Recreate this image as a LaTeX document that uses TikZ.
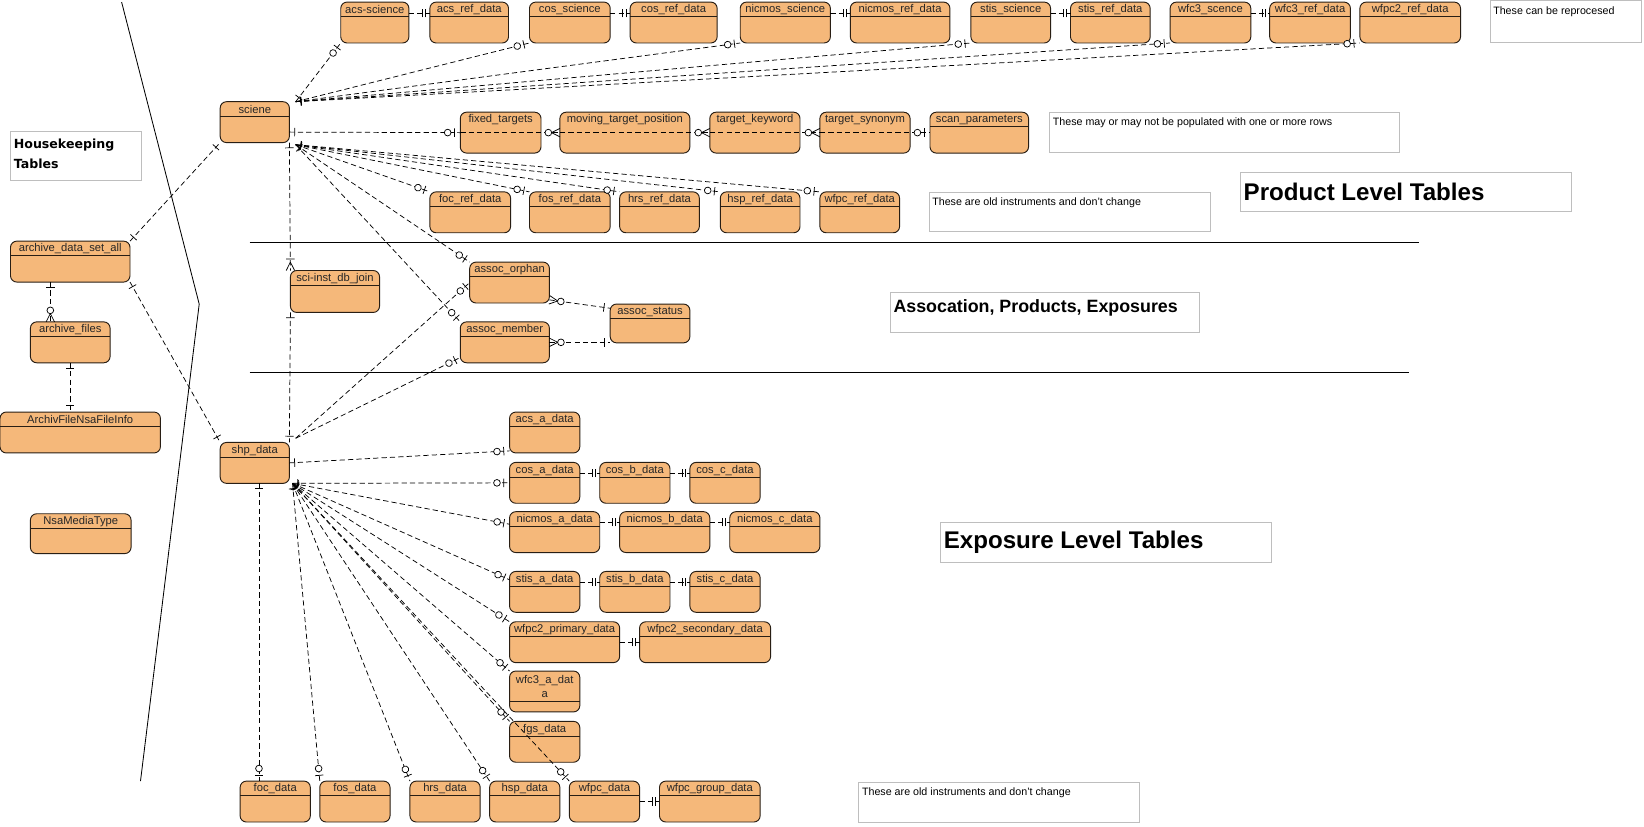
\documentclass[tikz,border=0pt]{standalone}
\usepackage{fontspec}
\setmainfont{Liberation Sans}
\newfontfamily\hkfont{DejaVu Sans}
\usetikzlibrary{decorations.markings}

\definecolor{tblfill}{RGB}{245,184,122}
\definecolor{tbldraw}{RGB}{40,30,20}
\definecolor{notedraw}{RGB}{190,190,190}

\tikzset{
 tbl/.style={draw=tbldraw, fill=tblfill, rounded corners=6pt, line width=0.9pt, inner sep=0pt, outer sep=0pt},
 tbltxt/.style={font=\fontsize{10.7}{13}\selectfont, inner sep=0pt, text=black!85},
 hdr/.style={draw=tbldraw, line width=0.8pt},
 note/.style={draw=notedraw, fill=white, line width=0.7pt, inner sep=0pt, outer sep=0pt, anchor=north west},
 notetxt/.style={font=\fontsize{10.2}{12}\selectfont, inner sep=0pt, anchor=north west},
 heading/.style={font=\bfseries\fontsize{#1}{#1}\selectfont, inner sep=0pt, anchor=west},
 conn/.style={draw=black, line width=0.7pt, dash pattern=on 5pt off 3pt},
 mk/.style={solid, line width=0.7pt, draw=black},
 sI/.style={postaction={decorate,decoration={markings,mark=at position 0.0001 with {\draw[mk] (5pt,-4pt) -- (5pt,4pt);}}}},
 eI/.style={postaction={decorate,decoration={markings,mark=at position 0.9999 with {\draw[mk] (-6pt,-4pt) -- (-6pt,4pt);}}}},
 eII/.style={postaction={decorate,decoration={markings,mark=at position 0.9999 with {\draw[mk] (-4pt,-4pt) -- (-4pt,4pt) (-7pt,-4pt) -- (-7pt,4pt);}}}},
 eOI/.style={postaction={decorate,decoration={markings,mark=at position 0.9999 with {\draw[mk] (-5.5pt,-4pt) -- (-5.5pt,4pt); \draw[mk,fill=white] (-12pt,0pt) circle (3.2pt);}}}},
 eOM/.style={postaction={decorate,decoration={markings,mark=at position 0.9999 with {\draw[mk] (-8pt,0pt) -- (0pt,4pt) (-8pt,0pt) -- (0pt,-4pt); \draw[mk,fill=white] (-11pt,0pt) circle (3.2pt);}}}},
 sOM/.style={postaction={decorate,decoration={markings,mark=at position 0.0001 with {\draw[mk] (8pt,0pt) -- (0pt,4pt) (8pt,0pt) -- (0pt,-4pt); \draw[mk,fill=white] (11pt,0pt) circle (3.2pt);}}}},
 eIM/.style={postaction={decorate,decoration={markings,mark=at position 0.9999 with {\draw[mk] (-8pt,0pt) -- (0pt,4pt) (-8pt,0pt) -- (0pt,-4pt) (-11pt,-4pt) -- (-11pt,4pt);}}}},
}

% table with header line
\newcommand\tb[6]{%
  \node[tbl, minimum width={(#4)-(#2)}, minimum height={(#5)-(#3)}] (#1) at ({((#2)+(#4))/2},{((#3)+(#5))/2}) {};
  \draw[hdr] ([yshift=-14pt]#1.north west) -- ([yshift=-14pt]#1.north east);
  \node[tbltxt] at ([yshift=-7.5pt]#1.north) {#6};
}
% table without header line
\newcommand\tbn[6]{%
  \node[tbl, minimum width={(#4)-(#2)}, minimum height={(#5)-(#3)}] (#1) at ({((#2)+(#4))/2},{((#3)+(#5))/2}) {};
  \node[tbltxt] at ([yshift=-7.5pt]#1.north) {#6};
}
% note box
\newcommand\nt[5]{%
  \node[note, minimum width={(#4)-(#2)}, minimum height={(#5)-(#3)}] (#1) at (#2,#3) {};
}

\begin{document}
\begin{tikzpicture}[x=1pt,y=-1pt]
\useasboundingbox (0,0) rectangle (1568,788);

% dividers
\draw[line width=0.8pt] (116,2) -- (190,290) -- (134,745);
\draw[line width=0.8pt] (238,231) -- (1353,231);
\draw[line width=0.8pt] (238,355) -- (1344,355);

% notes
\nt{nreproc}{1421}{0}{1565}{40}
\node[notetxt] at ([shift={(3pt,-6pt)}]nreproc.north west) {These can be reprocesed};
\nt{npop}{1001}{107}{1335}{145}
\node[notetxt] at ([shift={(3pt,-5pt)}]npop.north west) {These may or may not be populated with one or more rows};
\nt{nold}{886}{183}{1154}{221}
\node[notetxt] at ([shift={(3pt,-5pt)}]nold.north west) {These are old instruments and don't change};
\nt{nold2}{819}{746}{1087}{784}
\node[notetxt] at ([shift={(3pt,-5pt)}]nold2.north west) {These are old instruments and don't change};
\nt{nprod}{1183}{164}{1499}{202}
\node[heading=23] at ([xshift=3pt]nprod.west) {Product Level Tables};
\nt{nassoc}{849}{279}{1144}{317}
\node[heading=17] at ([shift={(3pt,4pt)}]nassoc.west) {Assocation, Products, Exposures};
\nt{nexp}{897}{498}{1213}{536}
\node[heading=23] at ([xshift=3pt]nexp.west) {Exposure Level Tables};
\nt{nhk}{10}{125}{135}{172}
\node[font=\hkfont\bfseries\fontsize{12}{19}\selectfont, inner sep=0pt, anchor=north west, align=left] at ([shift={(3pt,-7pt)}]nhk.north west) {Housekeeping\\Tables};

% tables: top row
\tb{acssci}{325}{2}{390}{41}{acs-science}
\tb{acsref}{410}{2}{485}{41}{acs\_ref\_data}
\tb{cossci}{505}{2}{582}{41}{cos\_science}
\tb{cosref}{601}{2}{684}{41}{cos\_ref\_data}
\tb{nicsci}{706}{2}{792}{41}{nicmos\_science}
\tb{nicref}{811}{2}{906}{41}{nicmos\_ref\_data}
\tb{stissci}{926}{2}{1002}{41}{stis\_science}
\tb{stisref}{1021}{2}{1097}{41}{stis\_ref\_data}
\tb{wfcsci}{1116}{2}{1193}{41}{wfc3\_scence}
\tb{wfcref}{1211}{2}{1288}{41}{wfc3\_ref\_data}
\tb{wfpctwo}{1297}{2}{1393}{41}{wfpc2\_ref\_data}

% science & product tables
\tb{sciene}{210}{97}{276}{136}{sciene}
\tbn{fixed}{439}{107}{516}{146}{fixed\_targets}
\tbn{moving}{534}{107}{658}{146}{moving\_target\_position}
\tbn{keyword}{677}{107}{763}{146}{target\_keyword}
\tbn{synonym}{782}{107}{868}{146}{target\_synonym}
\tb{scan}{887}{107}{981}{146}{scan\_parameters}
\tb{focref}{410}{183}{487}{222}{foc\_ref\_data}
\tb{fosref}{505}{183}{582}{222}{fos\_ref\_data}
\tb{hrsref}{591}{183}{667}{222}{hrs\_ref\_data}
\tb{hspref}{687}{183}{763}{222}{hsp\_ref\_data}
\tb{wfpcref}{782}{183}{858}{222}{wfpc\_ref\_data}

% housekeeping
\tb{adsa}{10}{230}{124}{269}{archive\_data\_set\_all}
\tb{afiles}{29}{307}{105}{346}{archive\_files}
\tb{afnfi}{0}{393}{153}{432}{ArchivFileNsaFileInfo}
\tb{nsamt}{29}{490}{125}{528}{NsaMediaType}

% association
\tb{scijoin}{277}{258}{362}{298}{sci-inst\_db\_join}
\tb{orphan}{448}{250}{524}{289}{assoc\_orphan}
\tb{status}{582}{290}{658}{327}{assoc\_status}
\tb{member}{439}{307}{524}{346}{assoc\_member}

% exposure
\tb{shp}{210}{422}{276}{461}{shp\_data}
\tb{acsa}{486}{393}{553}{432}{acs\_a\_data}
\tb{cosa}{486}{441}{553}{480}{cos\_a\_data}
\tb{cosb}{572}{441}{639}{480}{cos\_b\_data}
\tb{cosc}{658}{441}{725}{480}{cos\_c\_data}
\tb{nica}{486}{488}{572}{527}{nicmos\_a\_data}
\tb{nicb}{591}{488}{677}{527}{nicmos\_b\_data}
\tb{nicc}{696}{488}{782}{527}{nicmos\_c\_data}
\tb{stisa}{486}{545}{553}{584}{stis\_a\_data}
\tb{stisb}{572}{545}{639}{584}{stis\_b\_data}
\tb{stisc}{658}{545}{725}{584}{stis\_c\_data}
\tb{wfpcprim}{486}{593}{591}{632}{wfpc2\_primary\_data}
\tb{wfpcsec}{610}{593}{735}{632}{wfpc2\_secondary\_data}
\node[tbl, minimum width=67, minimum height=39] (wfcthree) at (519.5,659.5) {};
\draw[hdr] ([yshift=-29pt]wfcthree.north west) -- ([yshift=-29pt]wfcthree.north east);
\node[tbltxt, align=center] at ([yshift=-15pt]wfcthree.north) {wfc3\_a\_dat\\a};
\tb{fgs}{486}{688}{553}{727}{fgs\_data}
\tb{foc}{229}{745}{296}{784}{foc\_data}
\tb{fos}{305}{745}{372}{784}{fos\_data}
\tb{hrs}{391}{745}{458}{784}{hrs\_data}
\tb{hsp}{467}{745}{534}{784}{hsp\_data}
\tb{wfpc}{543}{745}{610}{784}{wfpc\_data}
\tb{wfpcgrp}{629}{745}{725}{784}{wfpc\_group\_data}

% ---------- connectors ----------
\foreach \t in {acssci,cossci,nicsci,stissci,wfcsci,wfpctwo}
  \draw[conn,sI,eOI] ([xshift=6pt]sciene.north east) -- (\t.south west);
\foreach \a/\b in {acssci/acsref,cossci/cosref,nicsci/nicref,stissci/stisref,wfcsci/wfcref}
  \draw[conn,eII] ([yshift=9pt]\a.east) -- ([yshift=9pt]\b.west);

\draw[conn,sI,eOI] ([yshift=-9.5pt]sciene.east) -- (fixed.west);
\draw[conn,eOM] (fixed.west) -- (moving.west);
\draw[conn,eOM] (moving.west) -- (keyword.west);
\draw[conn,eOM] (keyword.west) -- (synonym.west);
\draw[conn,eOI] (synonym.west) -- (scan.west);

\foreach \t in {focref,fosref,hrsref,hspref,wfpcref,orphan,member}
  \draw[conn,sI,eOI] ([shift={(6pt,-2pt)}]sciene.south east) -- (\t.north west);
\draw[conn,sI,eIM] (sciene.south east) -- (scijoin.north west);
\draw[conn,sI,eI] (scijoin.south west) -- (shp.north east);

\draw[conn,eOI] ([shift={(6pt,4pt)}]shp.north east) -- (orphan.west);
\draw[conn,eOI] ([shift={(6pt,4pt)}]shp.north east) -- ([yshift=5pt]member.south west);
\draw[conn,sOM,eI] ([yshift=3pt]orphan.south east) -- ([yshift=-4pt]status.north west);
\draw[conn,sOM,eI] (member.east) -- (member.east -| status.west);

\draw[conn,sI,eI] (adsa.north east) -- (sciene.south west);
\draw[conn,sI,eI] (adsa.south east) -- (shp.north west);
\draw[conn,sI,eOM] ([xshift=-19pt]adsa.south) -- ([xshift=-19pt]afiles.north);
\draw[conn,sI,eI] (afiles.south) -- (afiles.south |- afnfi.north);

\draw[conn,sI,eOI] (shp.east) -- ([yshift=2pt]acsa.south west);
\draw[conn,sI,eOI] ([xshift=3pt]shp.south east) -- (cosa.west);
\draw[conn,sI,eOI] ([xshift=3pt]shp.south east) -- ([yshift=-12pt]nica.north west);
\draw[conn,sI,eOI] ([xshift=3pt]shp.south east) -- ([yshift=-8pt]stisa.north west);
\foreach \t in {wfpcprim,wfcthree,fgs,wfpc,hsp,hrs,fos}
  \draw[conn,sI,eOI] ([xshift=3pt]shp.south east) -- (\t.north west);
\draw[conn,sI,eOI] ([xshift=4pt]shp.south) -- ([xshift=4pt]shp.south |- foc.north);

\foreach \a/\b in {cosa/cosb,cosb/cosc,nica/nicb,nicb/nicc,stisa/stisb,stisb/stisc}
  \draw[conn,eII] ([yshift=9.5pt]\a.east) -- ([yshift=9.5pt]\b.west);
\draw[conn,eII] (wfpcprim.east) -- (wfpcsec.west);
\draw[conn,eII] (wfpc.east) -- (wfpcgrp.west);
\end{tikzpicture}
\end{document}
